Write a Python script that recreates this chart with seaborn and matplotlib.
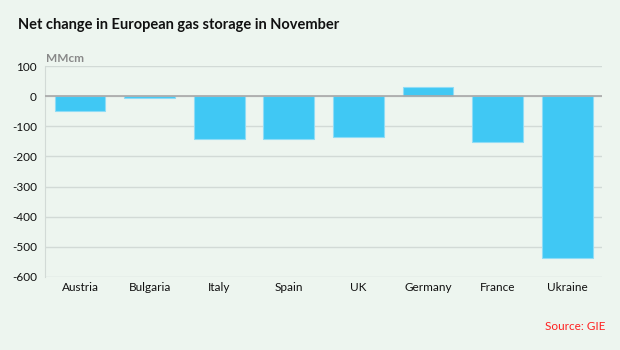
"""
Net change in European gas storage in November, bar chart.
"""
import numpy as np
import pandas as pd
from matplotlib import pyplot as plt
import seaborn as sns

countries = ["Austria", "Bulgaria", "Italy", "Spain", "UK", "Germany", "France", "Ukraine"]
net_change = [-50, -5, -142, -143, -136, 31, -152, -536]
y_ticks = [100, 0, -100, -200, -300, -400, -500, -600]

bg = "#edf5ef"
bar_color = "#40c8f4"

sns.set_style("white")
plt.rcParams["font.family"] = ["Lato", "DejaVu Sans"]

data = pd.DataFrame({"country": countries, "change": net_change})

fig, ax = plt.subplots(figsize=(6.2, 3.5), dpi=100)
fig.patch.set_facecolor(bg)
ax.set_facecolor(bg)
fig.subplots_adjust(left=0.073, right=0.971, top=0.811, bottom=0.209)

sns.barplot(
    data=data,
    x="country",
    y="change",
    color=bar_color,
    saturation=1.0,
    width=0.73,
    edgecolor="#8fdcf6",
    linewidth=0.8,
    ax=ax,
    zorder=3,
)

# Axes and grid
ax.set_ylim(-600, 100)
ax.set_yticks(y_ticks)
ax.set_yticklabels([str(t) for t in y_ticks], fontsize=8.5, color="#111111")
ax.set_xlim(-0.5, len(countries) - 0.5)
ax.grid(axis="y", color="#d2dad6", lw=1, zorder=0)
ax.axhline(0, color="#a8a8a8", lw=1.2, zorder=4)
for s in ["top", "right", "bottom"]:
    ax.spines[s].set_visible(False)
ax.spines["left"].set_color("#d2dad6")
ax.tick_params(axis="both", length=0, pad=6)
ax.tick_params(axis="x", pad=4)
plt.setp(ax.get_xticklabels(), fontsize=8.5, color="#111111")
ax.set_xlabel("")
ax.set_ylabel("")

# Titles and notes
fig.text(0.029, 0.928, "Net change in European gas storage in November",
         fontsize=10.5, weight="bold", ha="left", va="center", color="#111111")
fig.text(0.074, 0.834, "MMcm", fontsize=8.5, weight="bold", ha="left",
         va="center", color="#888888")
fig.text(0.977, 0.068, "Source: GIE", fontsize=8.5, ha="right", va="center",
         color="#ff2020")

plt.savefig("out.png", dpi=100, facecolor=bg)
